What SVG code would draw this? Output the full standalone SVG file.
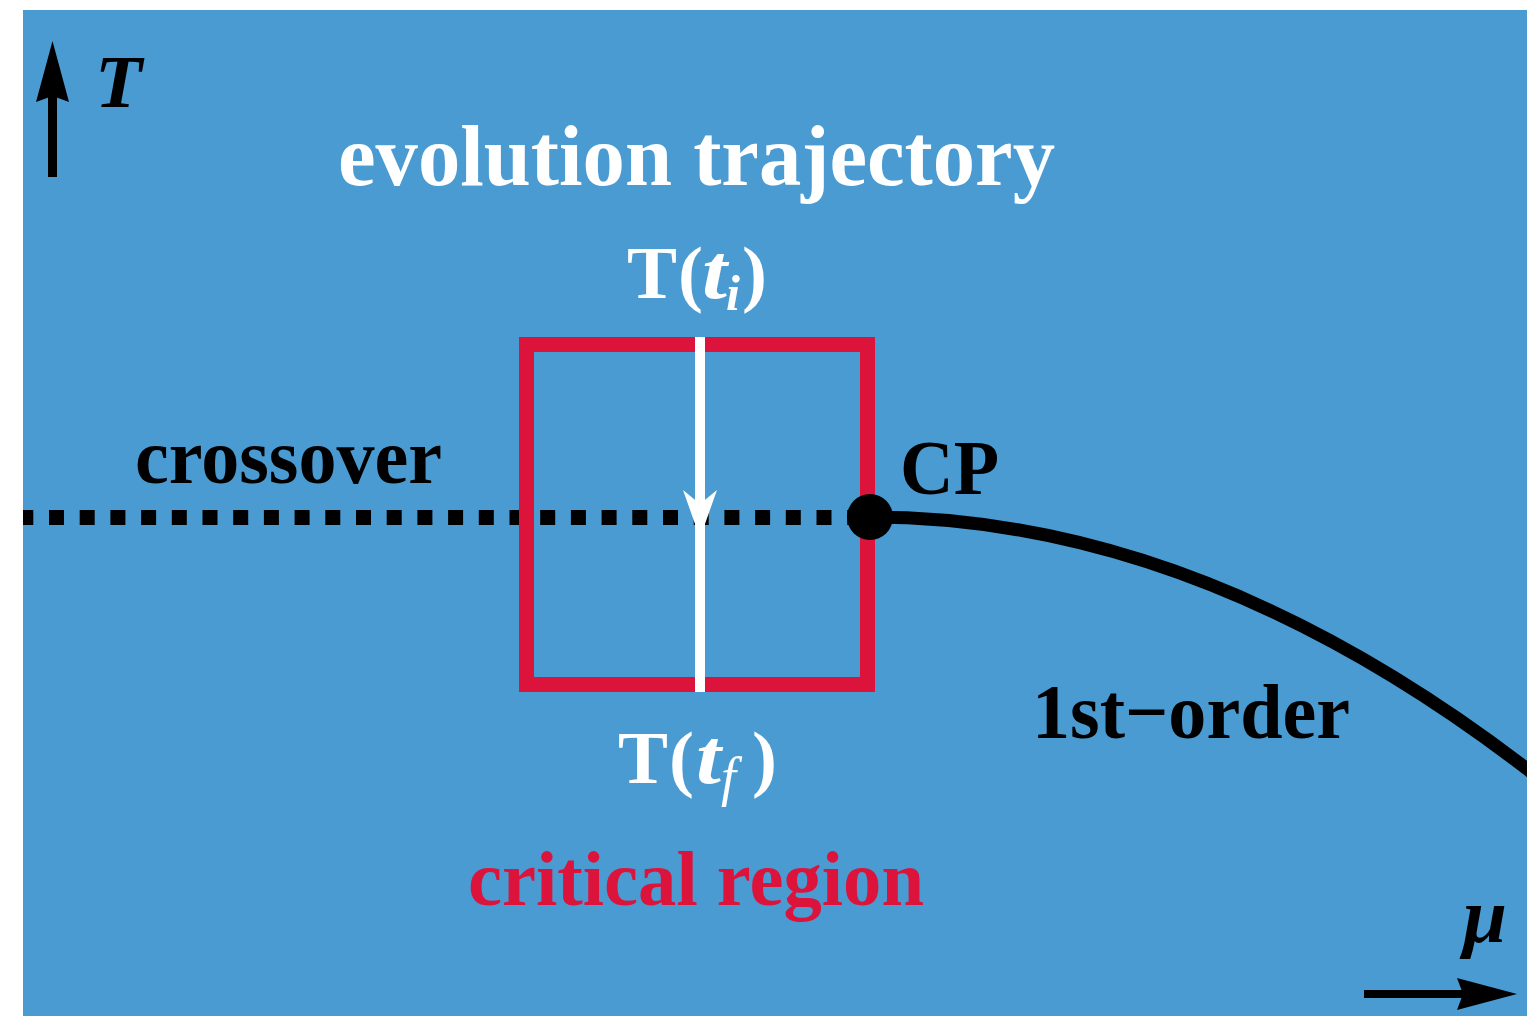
<svg xmlns="http://www.w3.org/2000/svg" width="1527" height="1016" viewBox="0 0 1527 1016">
<style>
.t{font-family:"Liberation Serif","Times New Roman",serif;font-weight:bold}
.w{fill:#ffffff}
.k{fill:#000000}
.r{fill:#dc143c}
.it{font-style:italic}
</style>
<rect x="0" y="0" width="1527" height="1016" fill="#ffffff"/>
<rect id="background" x="23" y="10" width="1504" height="1006" fill="#4a9bd2"/>
<g id="connectors">
  <line x1="23" y1="517.5" x2="852" y2="517.5" stroke="#000" stroke-width="15" stroke-dasharray="15 15.7" stroke-dashoffset="4.7"/>
  <path d="M870,517 Q1205,517 1540,779" fill="none" stroke="#000" stroke-width="13"/>
</g>
<g id="critical-region">
  <rect x="526.5" y="344.5" width="341" height="340" fill="none" stroke="#dc143c" stroke-width="15"/>
  <text class="t r" x="468" y="905" textLength="456" lengthAdjust="spacingAndGlyphs" font-size="78">critical region</text>
</g>
<g id="trajectory">
  <line x1="700" y1="337" x2="700" y2="692" stroke="#fff" stroke-width="10"/>
  <path d="M700,538 L683,490 L700,504 L717,490 Z" fill="#fff"/>
</g>
<g id="cp">
  <circle cx="870" cy="517" r="23" fill="#000"/>
  <text class="t k" x="900" y="494" textLength="99" lengthAdjust="spacingAndGlyphs" font-size="79">CP</text>
</g>
<g id="title">
  <text class="t w" x="338" y="185" textLength="717" lengthAdjust="spacingAndGlyphs" font-size="86">evolution trajectory</text>
</g>
<g id="t-initial">
  <text class="t w" x="627" y="298" textLength="50" lengthAdjust="spacingAndGlyphs" font-size="75">T</text>
  <text class="t w" x="678" y="298" font-size="75">(</text>
  <text class="t w it" x="702" y="298" textLength="25" lengthAdjust="spacingAndGlyphs" font-size="78">t</text>
  <text class="t w it" x="726" y="310" font-size="50">i</text>
  <text class="t w" x="742" y="298" font-size="75">)</text>
</g>
<g id="t-final">
  <text class="t w" x="618" y="783" textLength="50" lengthAdjust="spacingAndGlyphs" font-size="75">T</text>
  <text class="t w" x="669" y="783" font-size="75">(</text>
  <text class="t w it" x="696" y="783" textLength="25" lengthAdjust="spacingAndGlyphs" font-size="78">t</text>
  <text class="w it" font-family="Liberation Serif, serif" x="721" y="795" font-size="54">f</text>
  <text class="t w" x="752" y="783" font-size="75">)</text>
</g>
<g id="crossover">
  <text class="t k" x="135" y="483" textLength="307" lengthAdjust="spacingAndGlyphs" font-size="79">crossover</text>
</g>
<g id="first-order">
  <text class="t k" x="1032" y="738" textLength="318" lengthAdjust="spacingAndGlyphs" font-size="78">1st−order</text>
</g>
<g id="axis-T">
  <line x1="52.5" y1="177" x2="52.5" y2="95" stroke="#000" stroke-width="9"/>
  <path d="M52.5,41 L69,102 L52.5,96 L36,102 Z" fill="#000"/>
  <text class="t k it" x="95" y="107" textLength="47" lengthAdjust="spacingAndGlyphs" font-size="75">T</text>
</g>
<g id="axis-mu">
  <line x1="1364" y1="994" x2="1465" y2="994" stroke="#000" stroke-width="8"/>
  <path d="M1517,994 L1457,978 L1463,994 L1457,1010 Z" fill="#000"/>
  <text class="t k it" x="1463" y="942" textLength="44" lengthAdjust="spacingAndGlyphs" font-size="78">μ</text>
</g>
</svg>
